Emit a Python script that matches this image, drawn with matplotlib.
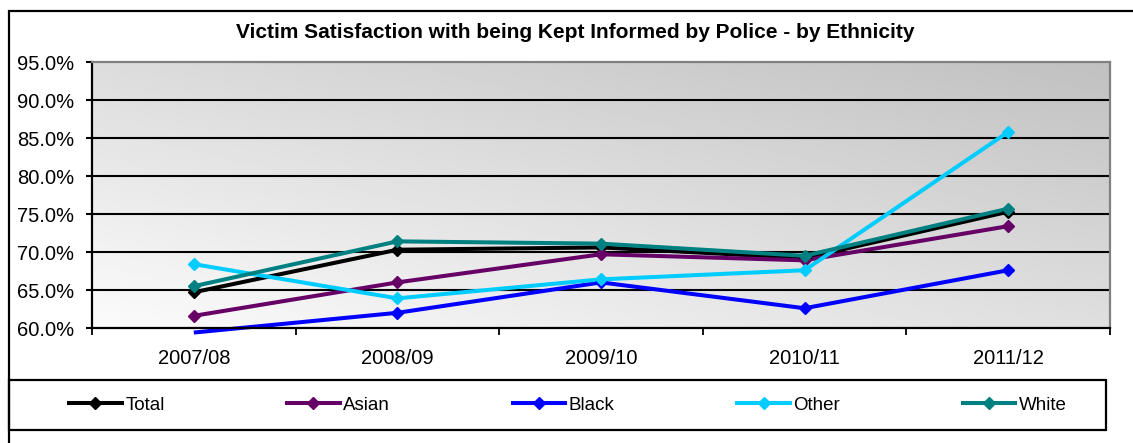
import numpy as np
import matplotlib
matplotlib.use("Agg")
import matplotlib.pyplot as plt
from matplotlib.patches import Rectangle
from matplotlib.lines import Line2D
from matplotlib.ticker import FuncFormatter

plt.rcParams['font.family'] = ['Liberation Sans', 'DejaVu Sans']

# ---- data ----
years = ["2007/08", "2008/09", "2009/10", "2010/11", "2011/12"]
total = [64.7, 70.3, 70.6, 69.2, 75.3]
asian = [61.6, 66.0, 69.7, 68.9, 73.4]
black = [59.4, 62.0, 66.0, 62.6, 67.6]
other = [68.4, 63.9, 66.4, 67.6, 85.8]
white = [65.5, 71.4, 71.1, 69.5, 75.7]
series_names = ["Total", "Asian", "Black", "Other", "White"]
series_values = [total, asian, black, other, white]
series_colors = ["#000000", "#660066", "#0000FF", "#00CCFF", "#008080"]
y_ticks = [60, 65, 70, 75, 80, 85, 90, 95]
title = "Victim Satisfaction with being Kept Informed by Police - by Ethnicity"

W, H = 1133, 443
fig = plt.figure(figsize=(W / 100, H / 100), dpi=100)
fig.patch.set_facecolor("white")

ax = fig.add_axes([92 / W, 1 - 328 / H, (1110 - 92) / W, (328 - 62) / H])

# gradient background of plot area
gx = np.linspace(0, 1, 200)
gy = np.linspace(0, 1, 100)
GX, GY = np.meshgrid(gx, gy)
grad = 0.985 - 0.11 * GX - 0.12 * GY
ax.imshow(grad, extent=[0, 1, 0, 1], transform=ax.transAxes, origin="lower",
          aspect="auto", cmap="gray", vmin=0, vmax=1, zorder=0, interpolation="bilinear")

x = np.arange(len(years))
ax.set_xlim(-0.5, len(years) - 0.5)
ax.set_ylim(y_ticks[0], y_ticks[-1])

for yv in y_ticks[1:-1]:
    ax.axhline(yv, color="black", lw=1.5, zorder=1)

for name, vals, col in zip(series_names, series_values, series_colors):
    vals = np.array(vals, dtype=float)
    ax.plot(x, vals, color=col, lw=2.9, zorder=3, clip_on=False,
            solid_capstyle="butt")
    m = vals >= y_ticks[0]
    ax.plot(x[m], vals[m], linestyle="none", marker="D", ms=5.8, color=col,
            mec=col, zorder=4)

# axes styling
ax.set_yticks(y_ticks)
ax.yaxis.set_major_formatter(FuncFormatter(lambda v, p: f"{v:.1f}%"))
ax.tick_params(axis="y", direction="out", length=4.5, width=1.5, pad=8.5,
               labelsize=14.5, colors="black")
ax.set_xticks(x)
ax.set_xticklabels(years)
ax.set_xticks(np.arange(-0.5, len(years)), minor=True)
ax.tick_params(axis="x", which="major", length=0, pad=15, labelsize=14.5)
ax.tick_params(axis="x", which="minor", direction="out", length=5, width=1.3)

for s in ["left", "bottom"]:
    ax.spines[s].set_color("black")
    ax.spines[s].set_linewidth(1.6)
for s in ["top", "right"]:
    ax.spines[s].set_color("#808080")
    ax.spines[s].set_linewidth(1.6)
ax.spines["bottom"].set_zorder(5)

# title
fig.text(575 / W, 1 - 33 / H, title, ha="center", va="center",
         fontsize=15, fontweight="bold")

# outer chart border (extends beyond image on right/bottom)
fig.add_artist(Rectangle((9 / W, -0.2), 1.5, 0.2 + (1 - 11 / H),
                         transform=fig.transFigure, fill=False,
                         edgecolor="black", lw=1.6))

# legend box
fig.add_artist(Rectangle((9 / W, 1 - 430 / H), (1106 - 9) / W, (430 - 380) / H,
                         transform=fig.transFigure, fill=False,
                         edgecolor="black", lw=1.6, zorder=5))

handles = [Line2D([0], [0], color=c, lw=2.9, marker="D", ms=6.2, mec=c)
           for c in series_colors]
fig.legend(handles, series_names, loc="center left",
           bbox_to_anchor=(69 / W, 1 - 405 / H, (1067 - 69) / W, 0.0001),
           ncol=5, mode="expand", frameon=False, fontsize=13.5,
           handlelength=2.8, handletextpad=0.2, borderaxespad=0, borderpad=0)

fig.savefig("out.png", dpi=100)
